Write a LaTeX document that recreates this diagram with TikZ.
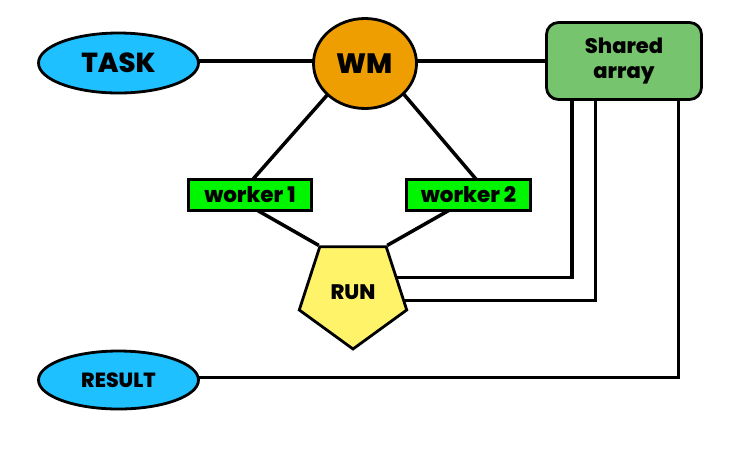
\documentclass[tikz,border=0pt]{standalone}
\usepackage{fontspec}
\setmainfont{Poppins}[UprightFont={* ExtraBold}, BoldFont={* ExtraBold}]
\usetikzlibrary{shapes.geometric,backgrounds,calc}
\definecolor{skyb}{HTML}{1EC0FF}
\definecolor{wmorange}{HTML}{EE9E00}
\definecolor{sagreen}{HTML}{77C46E}
\definecolor{wgreen}{HTML}{00F500}
\definecolor{runyellow}{HTML}{FFF36A}
\tikzset{
  base/.style={draw=black, line width=2.8pt, font=\bfseries, text=black, inner sep=0pt},
  oval/.style={base, ellipse, fill=skyb},
  wmnode/.style={base, ellipse, fill=wmorange},
  sharednode/.style={base, rectangle, rounded corners=12pt, fill=sagreen, align=center},
  workernode/.style={base, rectangle, fill=wgreen},
  runnode/.style={base, regular polygon, regular polygon sides=5, shape border rotate=180, fill=runyellow},
  conn/.style={draw=black, line width=3.5pt},
}
\begin{document}
\begin{tikzpicture}[x=1pt,y=-1pt]
\useasboundingbox (0,0) rectangle (735,451);
\node[oval, minimum width=160pt, minimum height=60pt, font=\bfseries\fontsize{27.5}{30}\selectfont] (task) at (118.5,63) {TASK};
\node[wmnode, minimum width=103pt, minimum height=90pt, font=\bfseries\fontsize{28}{30}\selectfont] (wm) at (365,63.5) {WM};
\node[sharednode, minimum width=155pt, minimum height=77pt, font=\bfseries\fontsize{21}{25}\selectfont] (sa) at (624,61) {Shared\\array};
\node[workernode, minimum width=123pt, minimum height=31pt, font=\bfseries\fontsize{21.5}{22}\selectfont] (w1) at (250,195) {worker 1};
\node[workernode, minimum width=124pt, minimum height=31pt, font=\bfseries\fontsize{21.5}{22}\selectfont] (w2) at (468.5,195) {worker 2};
\node[runnode, minimum size=113pt, font=\bfseries\fontsize{21}{24}\selectfont] (run) at (353,292.5) {RUN};
\node[oval, minimum width=160pt, minimum height=58pt, font=\bfseries\fontsize{20.5}{24}\selectfont] (res) at (118.5,380) {RESULT};
\begin{scope}[on background layer]
\draw[conn] (task.center |- sa.center) -- (wm.center |- sa.center);
\draw[conn] (wm.center |- sa.center) -- (sa.center);
\draw[conn] ([xshift=-10pt]wm.center) -- ([xshift=-11pt]w1.center);
\draw[conn] ([xshift=12.7pt]wm.center) -- ([xshift=21pt]w2.center);
\draw[conn] ([xshift=-19.5pt]w1.center) -- (run.corner 4);
\draw[conn] ([xshift=7.5pt]w2.center) -- (run.corner 3);
\draw[conn] ([yshift=14.8pt]run.center) -| ([xshift=-52pt]sa.center);
\draw[conn] ([yshift=-8.2pt]run.center) -| ([xshift=-28.3pt]sa.center);
\draw[conn] ([xshift=54.3pt]sa.center) |- ([yshift=2.3pt]res.center);
\end{scope}
\end{tikzpicture}
\end{document}
